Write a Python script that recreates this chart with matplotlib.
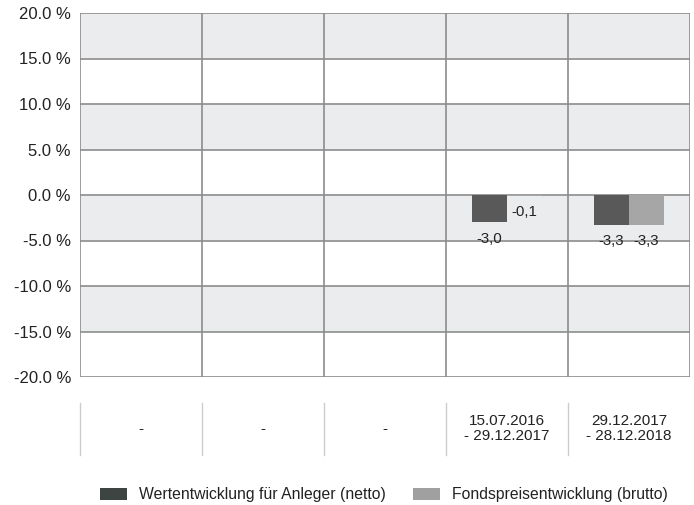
import numpy as np
import matplotlib
matplotlib.use("Agg")
import matplotlib.pyplot as plt
from matplotlib.patches import Patch
from matplotlib.transforms import blended_transform_factory

plt.rcParams['font.family'] = ['Liberation Sans', 'DejaVu Sans']

# Zeiträume und Wertentwicklung in Prozent (None = keine Daten)
perioden = ['-', '-', '-', '15.07.2016\n- 29.12.2017', '29.12.2017\n- 28.12.2018']
netto = [None, None, None, -3.0, -3.3]
brutto = [None, None, None, -0.1, -3.3]
serien_namen = ['Wertentwicklung für Anleger (netto)', 'Fondspreisentwicklung (brutto)']
y_ticks = [20, 15, 10, 5, 0, -5, -10, -15, -20]

farbe_netto = '#595959'
farbe_brutto = '#a6a6a6'
gitter = '#8c8c8c'

fig = plt.figure(figsize=(6.94, 5.05), dpi=100)
ax = fig.add_axes([80 / 694, 128 / 505, 610 / 694, 364 / 505])

ax.set_xlim(-0.5, len(perioden) - 0.5)
ax.set_ylim(-20, 20)

# abwechselnd graue Bänder
for lo in (15, 5, -5, -15):
    ax.axhspan(lo, lo + 5, color='#ebeced', lw=0, zorder=0)
for y in y_ticks:
    ax.axhline(y, color=gitter, lw=1.2, zorder=1)
for i in range(len(perioden) + 1):
    ax.axvline(i - 0.5, color=gitter, lw=1.2, zorder=1)

breite = 0.287
x = np.arange(len(perioden))
for werte, farbe, dx in ((netto, farbe_netto, -breite / 2), (brutto, farbe_brutto, breite / 2)):
    for xi, v in zip(x, werte):
        if v is None:
            continue
        ax.bar(xi + dx, v, width=breite, color=farbe, zorder=2)
        ax.annotate(f'{v:.1f}'.replace('.', ','), (xi + dx, v), xytext=(0, -11.7),
                    textcoords='offset points', ha='center', va='center',
                    fontsize=10.8, color='#222222', zorder=3)

ax.set_yticks(y_ticks)
ax.set_yticklabels([f'{t:.1f} %' for t in y_ticks], fontsize=12, color='#222222')
ax.tick_params(axis='y', length=0, pad=6.5)
ax.set_xticks([])
for s in ax.spines.values():
    s.set_visible(False)

# Tabelle mit den Zeiträumen unter dem Diagramm
trans = blended_transform_factory(ax.transData, ax.transAxes)
for i, txt in enumerate(perioden):
    ax.plot([i - 0.5, i - 0.5], [-0.071, -0.214], color='#cccccc', lw=1,
            transform=trans, clip_on=False)
    ax.text(i, -0.142, txt, transform=trans, ha='center', va='center',
            fontsize=11, color='#222222', linespacing=1.1)

handles = [Patch(facecolor='#3d4543', edgecolor='none'),
           Patch(facecolor='#a0a0a0', edgecolor='none')]
fig.legend(handles, serien_namen, loc='center', bbox_to_anchor=(384 / 694, 1 - 495 / 505),
           ncol=2, frameon=False, fontsize=11.3, handlelength=1.72, handleheight=0.83,
           handletextpad=0.76, columnspacing=1.72, labelcolor='#222222',
           borderpad=0, borderaxespad=0)

fig.savefig('out.png', dpi=100)
